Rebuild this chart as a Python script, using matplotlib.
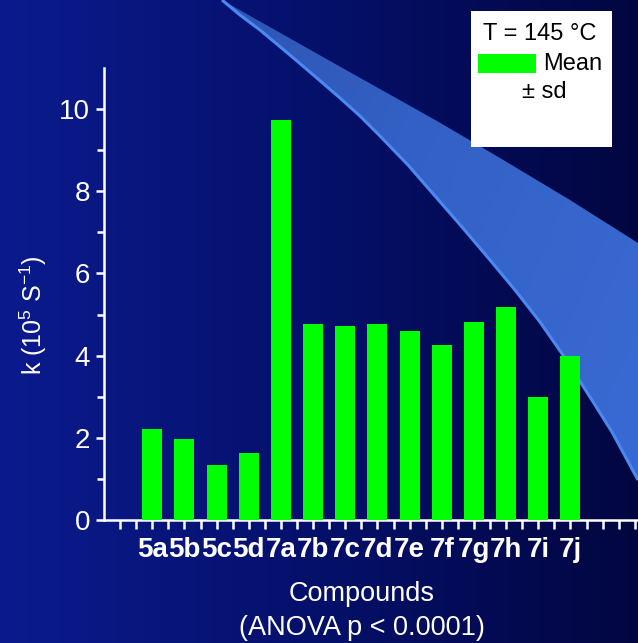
import numpy as np
import matplotlib
matplotlib.use("Agg")
import matplotlib.pyplot as plt
from matplotlib.patches import Polygon, Rectangle
from matplotlib.colors import LinearSegmentedColormap

# ---- data ----
compounds = ["5a", "5b", "5c", "5d", "7a", "7b", "7c", "7d", "7e", "7f", "7g", "7h", "7i", "7j"]
k_mean = [2.22, 1.98, 1.35, 1.64, 9.73, 4.76, 4.73, 4.76, 4.61, 4.27, 4.83, 5.18, 3.00, 3.99]
y_ticks = [0, 2, 4, 6, 8, 10]

W, H = 638, 643
plt.rcParams['font.family'] = ["Liberation Sans", "DejaVu Sans"]
plt.rcParams['mathtext.fontset'] = 'custom'
plt.rcParams['mathtext.rm'] = 'Liberation Sans'
plt.rcParams['mathtext.it'] = 'Liberation Sans'
plt.rcParams['mathtext.bf'] = 'Liberation Sans:bold'

fig = plt.figure(figsize=(W / 100, H / 100), dpi=100)

# ---- background (gradient + decorative band) ----
bg = fig.add_axes([0, 0, 1, 1], zorder=0)
bg.set_xlim(0, W)
bg.set_ylim(H, 0)
bg.axis("off")
bg_cmap = LinearSegmentedColormap.from_list("bg", ["#0b1b8e", "#05106a", "#020640"])
grad = np.linspace(0, 1, 256).reshape(1, -1)
bg.imshow(grad, cmap=bg_cmap, extent=[0, W, H, 0], aspect="auto", zorder=0)

upper = [(222, 0), (330, 61), (437, 121), (500, 158), (570, 200), (638, 243)]
lower = [(638, 480), (612, 432), (590, 397), (565, 358), (540, 322), (515, 290),
         (490, 260), (462, 227), (435, 196), (408, 165), (380, 136), (360, 116),
         (340, 98), (318, 79), (297, 61), (278, 45), (260, 30), (240, 15), (222, 0)]
band_poly = Polygon(upper + lower, closed=True, facecolor="none", edgecolor="none")
bg.add_patch(band_poly)
band_cmap = LinearSegmentedColormap.from_list("band", ["#2a4aa2", "#3360c4", "#3a6cd6"])
gx, gy = np.meshgrid(np.linspace(0, 1, 200), np.linspace(0, 1, 200))
band_img = bg.imshow(0.7 * gx + 0.3 * gy, cmap=band_cmap, extent=[0, W, H, 0],
                     aspect="auto", zorder=1)
band_img.set_clip_path(band_poly)
lx, ly = zip(*lower)
bg.plot(lx, ly, color="#4a88f2", lw=2.2, zorder=2, solid_capstyle="butt")

# ---- main axes ----
L, B, T = 104, 520, 68
ax = fig.add_axes([L / W, (H - B) / H, (W - L) / W, (B - T) / H], zorder=2)
ax.patch.set_alpha(0)
x = np.arange(len(compounds))
ax.bar(x, k_mean, width=0.62, color="#00ff00", edgecolor="none", zorder=3)

ax.set_xlim(-1.5, 15.1)
ax.set_ylim(0, 11)
for s in ["top", "right"]:
    ax.spines[s].set_visible(False)
for s in ["left", "bottom"]:
    ax.spines[s].set_color("white")
    ax.spines[s].set_linewidth(1.8)

ax.set_yticks(y_ticks)
ax.set_yticks(np.arange(1, 11, 2), minor=True)
ax.set_xticks(x)
ax.set_xticklabels(compounds)
minor_x = [v for v in np.arange(-1.0, 15.1, 0.5) if abs(v - round(v)) > 0.1 or v < 0 or v > 13]
ax.set_xticks(minor_x, minor=True)
ax.tick_params(axis="both", which="both", colors="white", width=1.8, direction="out")
ax.tick_params(axis="y", which="major", length=6, labelsize=20, pad=4)
ax.tick_params(axis="y", which="minor", length=5)
ax.tick_params(axis="x", which="both", length=6.5, pad=6)
for lab in ax.get_xticklabels():
    lab.set_fontweight("bold")
    lab.set_fontsize(20)
    lab.set_color("white")

ax.set_ylabel(r"k (10$^{\mathregular{5}}$ S$^{\mathregular{-1}}$)", color="white",
              fontsize=18, va="center")
ax.yaxis.set_label_coords((33 - L) / (W - L), (B - 315) / (B - T))
ax.set_xlabel("Compounds\n(ANOVA p < 0.0001)", color="white", fontsize=19.5,
              linespacing=1.42, va="center")
ax.xaxis.set_label_coords((362 - L) / (W - L), (B - 611) / (B - T))

# ---- legend box ----
fg = fig.add_axes([0, 0, 1, 1], zorder=3)
fg.set_xlim(0, W)
fg.set_ylim(H, 0)
fg.axis("off")
fg.add_patch(Rectangle((471, 11), 141, 136, facecolor="white", edgecolor="none"))
fg.add_patch(Rectangle((478, 54), 58, 19, facecolor="#00ff00", edgecolor="none"))
fg.text(540, 34, "T = 145 °C", fontsize=17, color="black", ha="center", va="center")
fg.text(543, 64, "Mean", fontsize=17, color="black", ha="left", va="center")
fg.text(544, 92, "± sd", fontsize=17, color="black", ha="center", va="center")

fig.savefig("out.png", dpi=100)
